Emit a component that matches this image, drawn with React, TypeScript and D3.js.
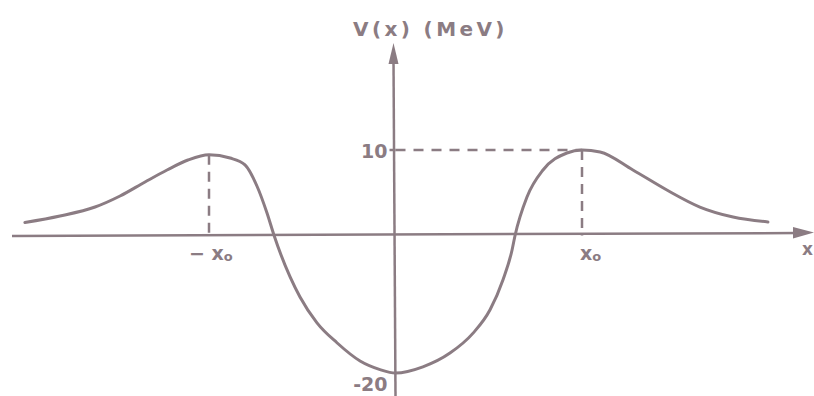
import React from "react";
import * as d3 from "d3";

// x in units of x0, V in MeV (hand-drawn sketch)
const xs = [-1.987, -1.799, -1.611, -1.477, -1.343, -1.225, -1.113, -1.0, -0.887, -0.807, -0.743, -0.689, -0.651, -0.512, -0.421, -0.314, -0.19, -0.083, 0, 0.147, 0.292, 0.416, 0.507, 0.576, 0.625, 0.641, 0.705, 0.791, 0.919, 1.0, 1.097, 1.273, 1.455, 1.632, 1.81, 1.997];
const vs = [1.52, 2.28, 3.33, 4.62, 6.26, 7.66, 8.83, 9.45, 9.06, 8.25, 5.79, 2.63, 0, -8.95, -12.7, -15.6, -18.25, -19.5, -20, -19.1, -17.1, -14.2, -10.8, -6.47, -2.11, 0, 4.5, 7.66, 9.65, 10, 9.77, 7.66, 5.32, 3.33, 2.16, 1.58];
const yTicks = [10, -20];
const peakX = [-1, 1];
const peakV = 10;

const W = 814;
const H = 396;
const COLOR = "#8b7c83";
const FONT = "'DejaVu Sans', sans-serif";

export default function App() {
  const x = d3.scaleLinear().domain([-1, 1]).range([209, 582]);
  const y = d3.scaleLinear().domain([-20, 0, 10]).range([373, 235.5, 150]);
  const pts: [number, number][] = xs.map((v, i) => [v, vs[i]]);
  const line = d3
    .line<[number, number]>()
    .x((d) => x(d[0]))
    .y((d) => y(d[1]))
    .curve(d3.curveMonotoneX);
  const x0 = x(0);
  const y0 = y(0);
  return (
    <div style={{ position: "fixed", left: 0, top: 0 }}>
      <svg width={W} height={H} style={{ display: "block", background: "#fff" }}>
        {/* x axis */}
        <line x1={12} x2={798} y1={y0 + 0.5} y2={y0 - 2.5} stroke={COLOR} strokeWidth={2.5} />
        <path d={`M814,${y0 - 3} L793,${y0 - 8.5} L793,${y0 + 3} Z`} fill={COLOR} />
        {/* y axis */}
        <line x1={x0} x2={x0 - 2} y1={H} y2={60} stroke={COLOR} strokeWidth={2.5} />
        <path d={`M${x0 - 2},43 L${x0 - 7},64 L${x0 + 3},64 Z`} fill={COLOR} />
        {/* dashed guides */}
        <line x1={x0} x2={x(1)} y1={y(peakV)} y2={y(peakV)} stroke={COLOR} strokeWidth={2.5} strokeDasharray="10 8" />
        <line x1={x0 - 6} x2={x0} y1={y(peakV)} y2={y(peakV)} stroke={COLOR} strokeWidth={2.5} />
        {peakX.map((p, i) => (
          <line key={i} x1={x(p)} x2={x(p)} y1={y(vs[xs.indexOf(p)])} y2={y0} stroke={COLOR} strokeWidth={2.5} strokeDasharray="10 7" />
        ))}
        {/* curve */}
        <path d={line(pts) || ""} fill="none" stroke={COLOR} strokeWidth={3} strokeLinecap="round" />
        {/* labels */}
        <text x={353} y={36} fill={COLOR} fontFamily={FONT} fontWeight="bold" fontSize={20} letterSpacing={3.4}>V(x) (MeV)</text>
        {yTicks.map((t) => (
          <text key={t} x={x0 - 8} y={y(t) + (t > 0 ? 8 : 18)} fill={COLOR} fontFamily={FONT} fontWeight="bold" fontSize={19} textAnchor="end">
            {t > 0 ? String(t) : "-" + Math.abs(t)}
          </text>
        ))}
        <text x={x(-1) - 20} y={260} fill={COLOR} fontFamily={FONT} fontWeight="bold" fontSize={19}>
          − x<tspan fontSize={13} dy={1}>o</tspan>
        </text>
        <text x={x(1) - 2} y={260} fill={COLOR} fontFamily={FONT} fontWeight="bold" fontSize={19}>
          x<tspan fontSize={13} dy={1}>o</tspan>
        </text>
        <text x={802} y={255} fill={COLOR} fontFamily={FONT} fontWeight="bold" fontSize={17}>x</text>
      </svg>
    </div>
  );
}
